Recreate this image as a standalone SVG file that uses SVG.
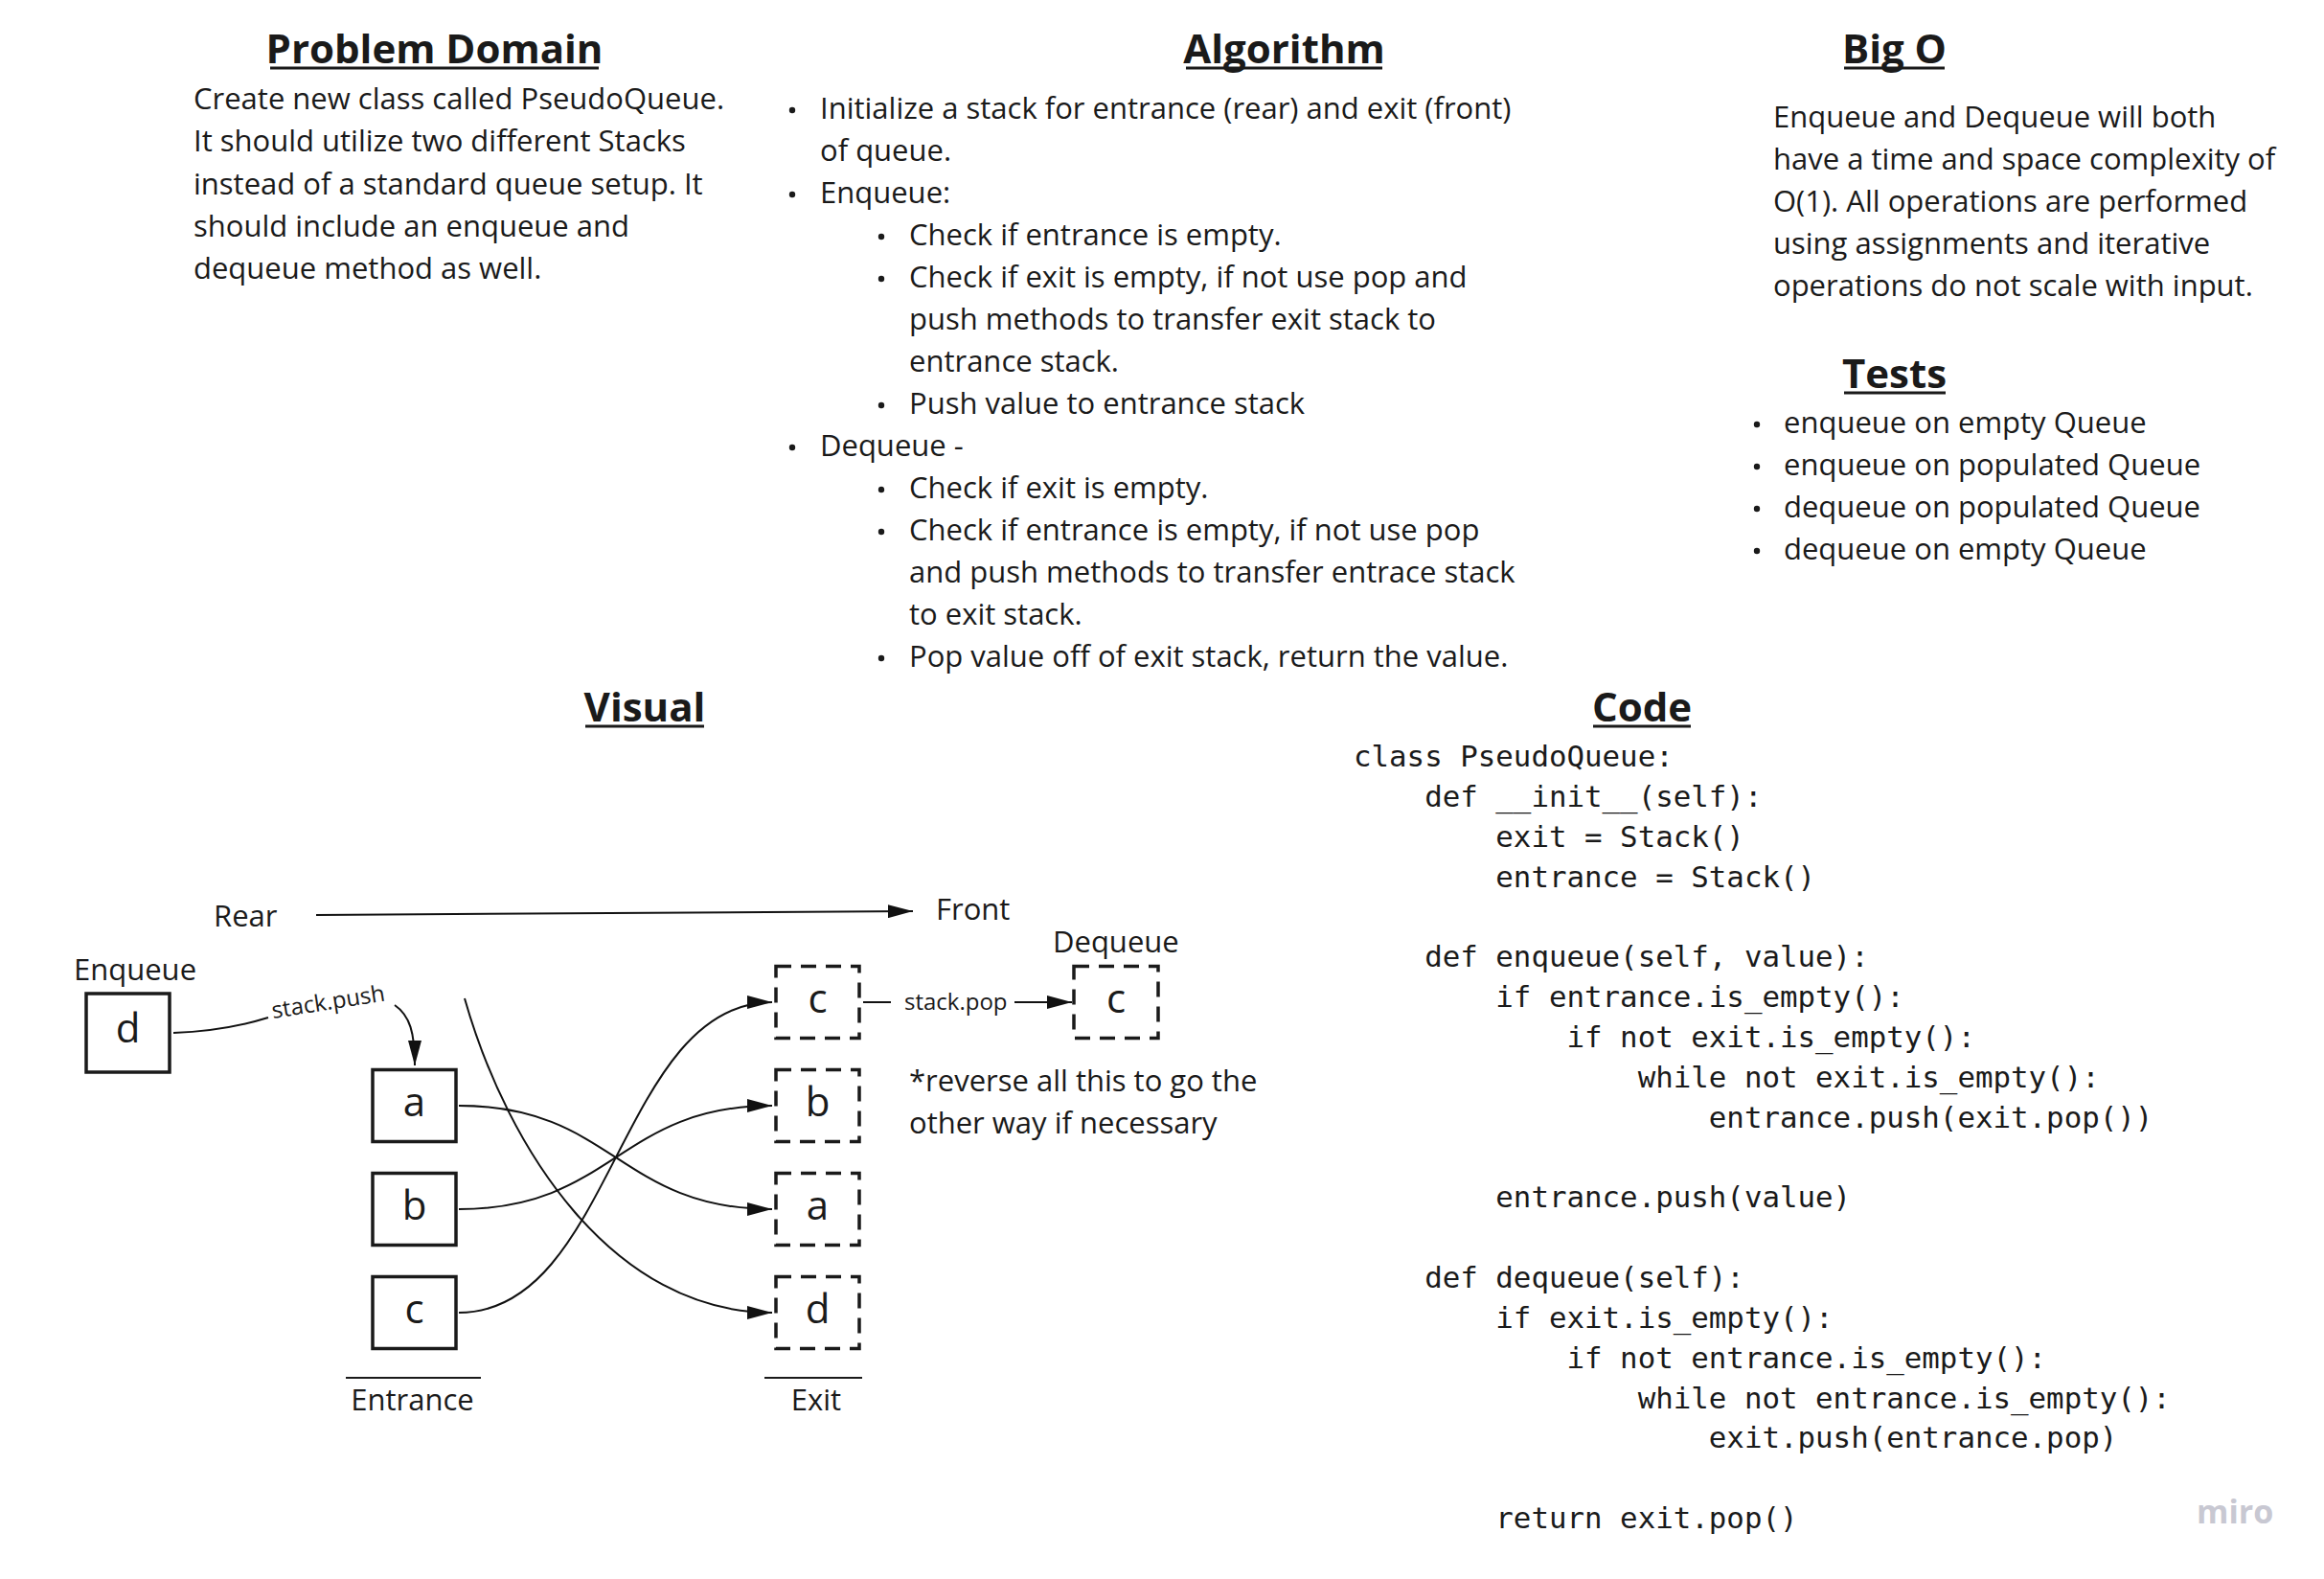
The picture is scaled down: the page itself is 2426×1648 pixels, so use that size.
<svg xmlns="http://www.w3.org/2000/svg" width="2426" height="1648" viewBox="0 0 2426 1648">
<style>
  .t { font-family: "Open Sans", "Liberation Sans", sans-serif; font-size: 31px; fill: #1a1a1a; }
  .h { font-family: "Open Sans", "Liberation Sans", sans-serif; font-size: 42px; font-weight: 700; fill: #1a1a1a; text-anchor: middle; }
  .ul { stroke: #1a1a1a; stroke-width: 3; }
  .code { font-family: "DejaVu Sans Mono", "Liberation Mono", monospace; font-size: 30.8px; fill: #1a1a1a; white-space: pre; }
  .box { fill: none; stroke: #1a1a1a; stroke-width: 3.5; }
  .dbox { fill: none; stroke: #1a1a1a; stroke-width: 3.5; stroke-dasharray: 16 10; }
  .letter { font-family: "Open Sans", "Liberation Sans", sans-serif; font-size: 42px; fill: #1a1a1a; text-anchor: middle; }
  .lbl { font-family: "Open Sans", "Liberation Sans", sans-serif; font-size: 24px; fill: #1a1a1a; }
  .conn { fill: none; stroke: #111111; stroke-width: 2; }
  .rule { stroke: #1a1a1a; stroke-width: 2; }
  .bul { fill: #1a1a1a; }
</style>
<defs>
  <marker id="arr" markerUnits="userSpaceOnUse" markerWidth="26" markerHeight="14" refX="26" refY="7" orient="auto">
    <path d="M0,0 L26,7 L0,14 z" fill="#111111"/>
  </marker>
</defs>
<rect width="2426" height="1648" fill="#ffffff"/>

<!-- Problem Domain -->
<g id="problem-domain">
  <text class="h" x="453.5" y="66">Problem Domain</text>
  <line class="ul" x1="282" y1="71" x2="625" y2="71"/>
  <text class="t" x="202" y="114">Create new class called PseudoQueue.</text>
  <text class="t" x="202" y="158">It should utilize two different Stacks</text>
  <text class="t" x="202" y="203">instead of a standard queue setup. It</text>
  <text class="t" x="202" y="247">should include an enqueue and</text>
  <text class="t" x="202" y="291">dequeue method as well.</text>
</g>

<!-- Algorithm -->
<g id="algorithm">
  <text class="h" x="1340.5" y="66">Algorithm</text>
  <line class="ul" x1="1238" y1="71" x2="1443" y2="71"/>
  <circle class="bul" cx="827" cy="115" r="3.2"/>
  <text class="t" x="856" y="124">Initialize a stack for entrance (rear) and exit (front)</text>
  <text class="t" x="856" y="168">of queue.</text>
  <circle class="bul" cx="827" cy="203" r="3.2"/>
  <text class="t" x="856" y="212">Enqueue:</text>
  <circle class="bul" cx="920" cy="247" r="3.2"/>
  <text class="t" x="949" y="256">Check if entrance is empty.</text>
  <circle class="bul" cx="920" cy="291" r="3.2"/>
  <text class="t" x="949" y="300">Check if exit is empty, if not use pop and</text>
  <text class="t" x="949" y="344">push methods to transfer exit stack to</text>
  <text class="t" x="949" y="388">entrance stack.</text>
  <circle class="bul" cx="920" cy="423" r="3.2"/>
  <text class="t" x="949" y="432">Push value to entrance stack</text>
  <circle class="bul" cx="827" cy="467" r="3.2"/>
  <text class="t" x="856" y="476">Dequeue -</text>
  <circle class="bul" cx="920" cy="511" r="3.2"/>
  <text class="t" x="949" y="520">Check if exit is empty.</text>
  <circle class="bul" cx="920" cy="555" r="3.2"/>
  <text class="t" x="949" y="564">Check if entrance is empty, if not use pop</text>
  <text class="t" x="949" y="608">and push methods to transfer entrace stack</text>
  <text class="t" x="949" y="652">to exit stack.</text>
  <circle class="bul" cx="920" cy="687" r="3.2"/>
  <text class="t" x="949" y="696">Pop value off of exit stack, return the value.</text>
</g>

<!-- Big O -->
<g id="big-o">
  <text class="h" x="1977.5" y="66">Big O</text>
  <line class="ul" x1="1925" y1="71" x2="2030" y2="71"/>
  <text class="t" x="1851" y="133">Enqueue and Dequeue will both</text>
  <text class="t" x="1851" y="177">have a time and space complexity of</text>
  <text class="t" x="1851" y="221">O(1). All operations are performed</text>
  <text class="t" x="1851" y="265">using assignments and iterative</text>
  <text class="t" x="1851" y="309">operations do not scale with input.</text>
</g>

<!-- Tests -->
<g id="tests">
  <text class="h" x="1977.5" y="405">Tests</text>
  <line class="ul" x1="1925" y1="410" x2="2031" y2="410"/>
  <circle class="bul" cx="1834" cy="443" r="3.2"/>
  <text class="t" x="1862" y="452">enqueue on empty Queue</text>
  <circle class="bul" cx="1834" cy="487" r="3.2"/>
  <text class="t" x="1862" y="496">enqueue on populated Queue</text>
  <circle class="bul" cx="1834" cy="531" r="3.2"/>
  <text class="t" x="1862" y="540">dequeue on populated Queue</text>
  <circle class="bul" cx="1834" cy="575" r="3.2"/>
  <text class="t" x="1862" y="584">dequeue on empty Queue</text>
</g>

<!-- Visual title and labels -->
<g id="visual-labels">
  <text class="h" x="673" y="753">Visual</text>
  <line class="ul" x1="611" y1="758" x2="735" y2="758"/>
  <text class="t" x="223" y="967">Rear</text>
  <text class="t" x="977" y="960">Front</text>
  <text class="t" x="77" y="1023">Enqueue</text>
  <text class="t" x="1099" y="994">Dequeue</text>
  <text class="t" x="949" y="1139">*reverse all this to go the</text>
  <text class="t" x="949" y="1183">other way if necessary</text>
  <line class="rule" x1="361" y1="1438" x2="502" y2="1438"/>
  <text class="t" x="430.5" y="1472" text-anchor="middle">Entrance</text>
  <line class="rule" x1="798" y1="1438" x2="900" y2="1438"/>
  <text class="t" x="852" y="1472" text-anchor="middle">Exit</text>
</g>

<!-- Nodes -->
<g id="enqueue-d"><rect class="box" x="90" y="1037" width="87" height="82"/><text class="letter" x="133.5" y="1088">d</text></g>
<g id="entrance-a"><rect class="box" x="389" y="1116.5" width="87" height="75"/><text class="letter" x="432.5" y="1165">a</text></g>
<g id="entrance-b"><rect class="box" x="389" y="1224.5" width="87" height="75"/><text class="letter" x="432.5" y="1273">b</text></g>
<g id="entrance-c"><rect class="box" x="389" y="1332.5" width="87" height="75"/><text class="letter" x="432.5" y="1381">c</text></g>
<g id="exit-c"><rect class="dbox" x="810" y="1008.5" width="87" height="75"/><text class="letter" x="853.5" y="1057">c</text></g>
<g id="exit-b"><rect class="dbox" x="810" y="1116.5" width="87" height="75"/><text class="letter" x="853.5" y="1165">b</text></g>
<g id="exit-a"><rect class="dbox" x="810" y="1224.5" width="87" height="75"/><text class="letter" x="853.5" y="1273">a</text></g>
<g id="exit-d"><rect class="dbox" x="810" y="1332.5" width="87" height="75"/><text class="letter" x="853.5" y="1381">d</text></g>
<g id="dequeue-c"><rect class="dbox" x="1121" y="1008.5" width="88" height="75"/><text class="letter" x="1165" y="1057">c</text></g>

<!-- Connectors -->
<g id="connectors">
  <path class="conn" d="M330,955 L953,951" marker-end="url(#arr)"/>
  <path class="conn" d="M181,1078 Q235,1076 280,1062"/>
  <path class="conn" d="M412,1049 C428,1060 433,1078 433,1112" marker-end="url(#arr)"/>
  <text class="lbl" x="285" y="1063" transform="rotate(-9 285 1063)">stack.push</text>
  <path class="conn" d="M479,1154 C640,1154 646,1262 806,1262" marker-end="url(#arr)"/>
  <path class="conn" d="M479,1262 C640,1262 646,1154 806,1154" marker-end="url(#arr)"/>
  <path class="conn" d="M479,1370 C640,1370 646,1046 806,1046" marker-end="url(#arr)"/>
  <path class="conn" d="M485,1042 C530,1200 640,1370 806,1370" marker-end="url(#arr)"/>
  <path class="conn" d="M901,1046 L930,1046"/>
  <text class="lbl" x="944" y="1054">stack.pop</text>
  <path class="conn" d="M1059,1046 L1119,1046" marker-end="url(#arr)"/>
</g>

<!-- Code -->
<g id="code">
  <text class="h" x="1714" y="753">Code</text>
  <line class="ul" x1="1663" y1="758" x2="1765" y2="758"/>
  <text class="code" x="1413" y="800">class PseudoQueue:</text>
  <text class="code" x="1413" y="842">    def __init__(self):</text>
  <text class="code" x="1413" y="884">        exit = Stack()</text>
  <text class="code" x="1413" y="926">        entrance = Stack()</text>
  <text class="code" x="1413" y="1009">    def enqueue(self, value):</text>
  <text class="code" x="1413" y="1051">        if entrance.is_empty():</text>
  <text class="code" x="1413" y="1093">            if not exit.is_empty():</text>
  <text class="code" x="1413" y="1135">                while not exit.is_empty():</text>
  <text class="code" x="1413" y="1177">                    entrance.push(exit.pop())</text>
  <text class="code" x="1413" y="1260">        entrance.push(value)</text>
  <text class="code" x="1413" y="1344">    def dequeue(self):</text>
  <text class="code" x="1413" y="1386">        if exit.is_empty():</text>
  <text class="code" x="1413" y="1428">            if not entrance.is_empty():</text>
  <text class="code" x="1413" y="1470">                while not entrance.is_empty():</text>
  <text class="code" x="1413" y="1511">                    exit.push(entrance.pop)</text>
  <text class="code" x="1413" y="1595">        return exit.pop()</text>
</g>

<text x="2293" y="1590" font-family="'Open Sans', 'Liberation Sans', sans-serif" font-size="34" font-weight="700" fill="#c8c8d2">miro</text>
</svg>
